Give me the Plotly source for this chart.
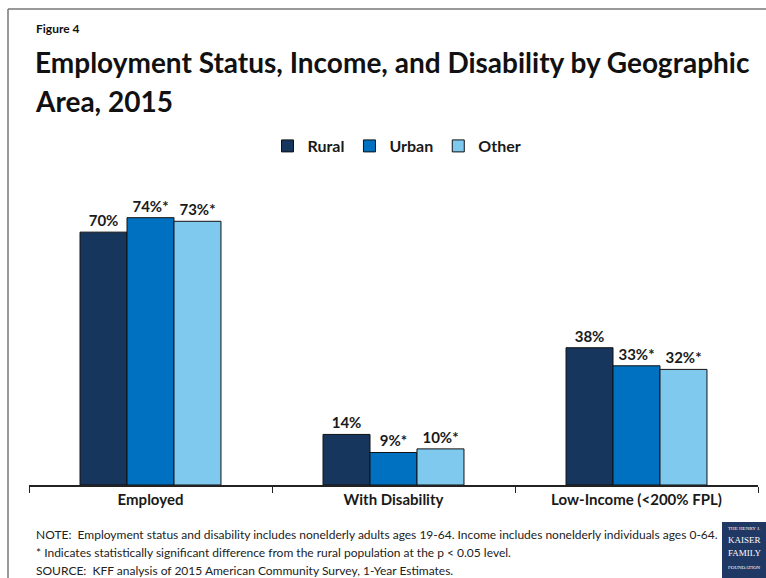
import plotly.graph_objects as go

categories = ["Employed", "With Disability", "Low-Income (<200% FPL)"]
series_names = ["Rural", "Urban", "Other"]
rural = [70, 14, 38]
urban = [74, 9, 33]
other = [73, 10, 32]
rural_sig = ["", "", ""]
urban_sig = ["*", "*", "*"]
other_sig = ["*", "*", "*"]
colors = ["#17365D", "#0070C0", "#7FC8EE"]

W, H = 766, 578
L, R, T, B = 29, 8, 196, 93
YMAX = 80
pw, ph = W - L - R, H - T - B

def px(x):
    return (x - L) / pw

def py(y):
    return (H - B - y) / ph

FONT = "Lato"

fig = go.Figure()
for name, vals, sig, col in zip(series_names, [rural, urban, other],
                                [rural_sig, urban_sig, other_sig], colors):
    fig.add_trace(go.Bar(
        name=name, x=categories, y=vals,
        text=[f"{v}%{s}" for v, s in zip(vals, sig)],
        textposition="outside", cliponaxis=False,
        textfont=dict(family=FONT, size=15, color="#1a1a1a", weight="bold"),
        marker=dict(color=col, line=dict(color="#111111", width=1)),
    ))

fig.update_layout(
    width=W, height=H,
    margin=dict(l=L, r=R, t=T, b=B),
    paper_bgcolor="white", plot_bgcolor="white",
    barmode="group", bargap=0.42, bargroupgap=0,
    font=dict(family=FONT, color="#1a1a1a"),
    showlegend=True,
    legend=dict(orientation="h", x=px(397), y=py(146), xanchor="center", yanchor="middle",
                font=dict(family=FONT, size=16, color="#1a1a1a", weight="bold"),
                itemwidth=30, tracegroupgap=0, traceorder="normal"),
    xaxis=dict(showline=True, linecolor="#222222", linewidth=2,
               ticks="outside", tickson="boundaries", ticklen=6, tickcolor="#222222",
               tickwidth=1,
               tickfont=dict(family=FONT, size=15, color="#1a1a1a", weight="bold"),
               showgrid=False),
    yaxis=dict(range=[0, YMAX], visible=False, showgrid=False),
)

ann = [
    dict(text="Figure 4", x=px(34), y=py(28), size=12),
    dict(text="Employment Status, Income, and Disability by Geographic", x=px(33), y=py(62), size=28),
    dict(text="Area, 2015", x=px(33), y=py(101), size=28),
]
for a in ann:
    fig.add_annotation(text=a["text"], x=a["x"], y=a["y"], xref="paper", yref="paper",
                       xanchor="left", yanchor="middle", showarrow=False,
                       font=dict(family=FONT, size=a["size"], color="#111111", weight="bold"))

notes = [
    ("NOTE:  Employment status and disability includes nonelderly adults ages 19-64. Income includes nonelderly individuals ages 0-64.", 534),
    ("* Indicates statistically significant difference from the rural population at the p < 0.05 level.", 552),
    ("SOURCE:  KFF analysis of 2015 American Community Survey, 1-Year Estimates.", 570),
]
for t, yy in notes:
    fig.add_annotation(text=t, x=px(34), y=py(yy), xref="paper", yref="paper",
                       xanchor="left", yanchor="middle", showarrow=False,
                       font=dict(family=FONT, size=12, color="#222222"))

# border lines
fig.add_shape(type="line", xref="paper", yref="paper", x0=px(8), x1=px(766), y0=py(9), y1=py(9),
              line=dict(color="#777777", width=1.5))
fig.add_shape(type="line", xref="paper", yref="paper", x0=px(8), x1=px(8), y0=py(9), y1=py(578),
              line=dict(color="#777777", width=1.5))

# logo
fig.add_shape(type="rect", xref="paper", yref="paper", x0=px(722), x1=px(768), y0=py(522), y1=py(578),
              line=dict(width=0), fillcolor="#1F3864")
for t, yy, sz in [("THE HENRY J.", 528, 5), ("KAISER", 540, 9), ("FAMILY", 553, 9), ("FOUNDATION", 567, 5)]:
    fig.add_annotation(text=t, x=px(744), y=py(yy), xref="paper", yref="paper",
                       xanchor="center", yanchor="middle", showarrow=False,
                       font=dict(family="Liberation Serif", size=sz, color="white"))

fig.write_html("out.html")
